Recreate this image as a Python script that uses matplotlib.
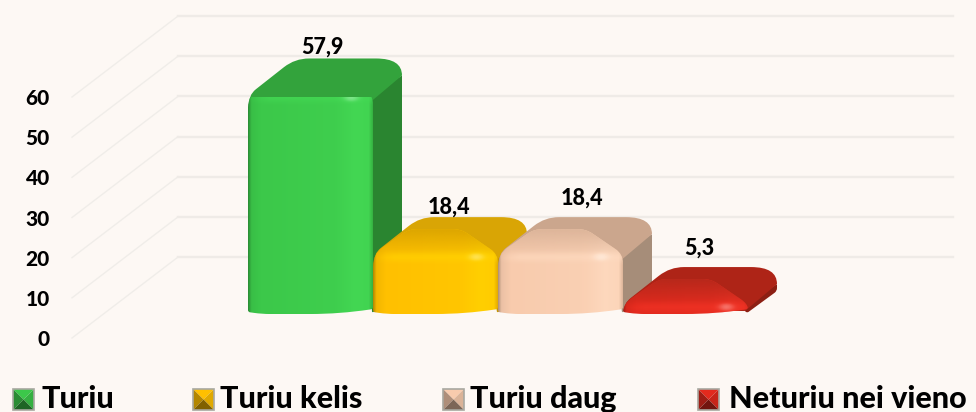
import numpy as np
import matplotlib
matplotlib.use("Agg")
import matplotlib.pyplot as plt
from matplotlib.colors import to_rgb
from matplotlib.patches import PathPatch, Polygon, Rectangle
from matplotlib.path import Path

categories = ["Turiu", "Turiu kelis", "Turiu daug", "Neturiu nei vieno"]
values = [57.9, 18.4, 18.4, 5.3]
value_labels = ["57,9", "18,4", "18,4", "5,3"]
y_ticks = [0, 10, 20, 30, 40, 50, 60]

# front, light, top, slope, side
bar_colors = [
    ("#3CC84A", "#45DC56", "#33A33C", "#37B545", "#2A8530"),
    ("#FFC000", "#FFD400", "#D9A505", "#DDA600", "#C49503"),
    ("#F8CBAD", "#FFDCC2", "#CBA68D", "#DDB59A", "#A68D79"),
    ("#E22A1E", "#F23426", "#AE2417", "#B8281B", "#8C1F13"),
]
label_nudge = [(74, 11), (76, 10), (84, 19), (76, 19)]
legend_swatch_x = [13, 193, 443, 698]
legend_text_x = [41, 220, 470, 729]

W, H = 976, 412
BG = "#FDF8F4"
PX_PER_CAT = 125
PX_PER_VAL = 4.02
AX_LEFT, AX_ZERO, AX_TOP = 72, 338, 97
FIRST_BAR_LEFT = 248
BAR_BASE_UP = 25     # front of the bars sits this far above the axis zero
DEPTH_X, DEPTH_Y = 106, 81
MIN_TOP = 46         # the bevel keeps short bars from getting thinner than this


def rounded(points, radii):
    """Closed path through points with corners cut by quadratic curves"""
    pts = np.array(points, dtype=float)
    n = len(pts)
    verts, codes = [], []
    for k in range(n):
        p, prev, nxt = pts[k], pts[k - 1], pts[(k + 1) % n]
        r = radii[k]
        a = p + (prev - p) * min(r / np.linalg.norm(prev - p), 1.0)
        b = p + (nxt - p) * min(r / np.linalg.norm(nxt - p), 1.0)
        verts.append(a)
        codes.append(Path.MOVETO if k == 0 else Path.LINETO)
        verts += [p, b]
        codes += [Path.CURVE3, Path.CURVE3]
    verts.append(verts[0])
    codes.append(Path.CLOSEPOLY)
    return Path(verts, codes)


def mix(c1, c2, t):
    return np.array(to_rgb(c1)) * (1 - t) + np.array(to_rgb(c2)) * t


fig = plt.figure(figsize=(W / 100, H / 100), dpi=100, facecolor=BG)
ax = fig.add_axes([AX_LEFT / W, (H - AX_ZERO) / H, (W - AX_LEFT) / W, (AX_ZERO - AX_TOP) / H])
ax.set_facecolor("none")
ax.set_xlim(0, (W - AX_LEFT) / PX_PER_CAT)
ax.set_ylim(0, 60)
for s in ax.spines.values():
    s.set_visible(False)
ax.set_xticks([])
ax.set_yticks(y_ticks)
ax.tick_params(axis="y", length=0, pad=16)
for t in ax.get_yticklabels():
    t.set_fontfamily("Lato")
    t.set_fontweight(900)
    t.set_fontsize(15)
    t.set_color("black")

dx_depth = DEPTH_X / PX_PER_CAT
dy_depth = DEPTH_Y / PX_PER_VAL
x_end = (953 - AX_LEFT) / PX_PER_CAT
for v in y_ticks:
    ax.plot([0, dx_depth], [v, v + dy_depth], color="#F0EDE9", lw=1.0, clip_on=False, zorder=1)
    ax.plot([dx_depth, x_end], [v + dy_depth, v + dy_depth], color="#EFEBE7", lw=1.7, clip_on=False, zorder=1)


def to_data(i, x, up):
    # x: px from the bar's left edge, up: px above the bar's front bottom
    left = (FIRST_BAR_LEFT - AX_LEFT) / PX_PER_CAT + i
    return left + x / PX_PER_CAT, (BAR_BASE_UP + up) / PX_PER_VAL


def rounded_px(i, pts, r):
    # radii are given in px; the rounding itself happens in px space
    path = rounded(pts, r)
    verts = np.array([to_data(i, x, y) for x, y in path.vertices])
    return Path(verts, path.codes)


def gradient(path, img, i, x0, x1, y0, y1, z):
    ex0, ey0 = to_data(i, x0, y0)
    ex1, ey1 = to_data(i, x1, y1)
    im = ax.imshow(img, extent=(ex0, ex1, ey0, ey1), origin="lower", aspect="auto",
                   interpolation="bilinear", zorder=z)
    patch = PathPatch(path, transform=ax.transData, fc="none", ec="none")
    ax.add_patch(patch)
    im.set_clip_path(patch)


for i, v in enumerate(values):
    front, light, top, slope, side = bar_colors[i]
    z = 5 + i * 5
    T = max(22 + v * PX_PER_VAL, MIN_TOP)

    side_pts = [(118, T - 40), (154, T - 17), (154, 22), (124, 0)]
    ax.add_patch(PathPatch(rounded_px(i, side_pts, [1, 1, 3, 2]), fc=side, ec="none", zorder=z, clip_on=False))

    plate_low = max(T - 48, 3)
    top_pts = [(0, T - 37), (47, T), (154, T), (154, T - 17), (122, T - 44), (2, plate_low)]
    ax.add_patch(PathPatch(rounded_px(i, top_pts, [10, 14, 26, 0, 1, 1]), fc=top, ec="none", zorder=z + 1, clip_on=False))

    # whole front silhouette: the body, its sloping top and the lit band share one clip
    sil = [(0, 1), (14, -1), (92, -1), (125, 4), (125, T - 37), (88, T - 12), (36, T - 12), (0, T - 37)]
    sil_path = rounded_px(i, sil, [2, 8, 30, 2, 9, 8, 8, 12])

    stops = np.array([0, 0.025, 0.1, 0.7, 0.86, 0.97, 1])
    cols = [mix(front, "#000000", 0.28), mix(front, "#000000", 0.05), mix(front, light, 0),
            mix(front, light, 0.3), mix(front, light, 0.75), mix(front, light, 0.6), mix(front, "#000000", 0.1)]
    xs = np.linspace(0, 1, 130)
    row = np.stack([np.interp(xs, stops, [c[k] for c in cols]) for k in range(3)], axis=-1)
    gradient(sil_path, row[None, :, :].repeat(2, axis=0), i, 0, 125, -1, T, z + 2)

    # sloping top of the front, fades in above the band
    slope_img = np.zeros((40, 2, 4))
    slope_img[..., :3] = to_rgb(slope)
    slope_img[..., 3] = (np.linspace(0, 1, 40) ** 0.9)[:, None]
    gradient(sil_path, slope_img, i, 0, 125, T - 40, T - 12, z + 3)

    # lit band and corner highlight along the front edge
    band = np.zeros((30, 130, 4))
    band[..., :3] = mix(front, light, 0.9)
    yy, xx = np.mgrid[0:1:30j, 0:1:130j]
    band[..., 3] = 0.6 * np.exp(-((yy - 0.5) / 0.25) ** 2) * np.clip(xx * 6, 0, 1)
    glow = np.exp(-((xx - 0.83) / 0.06) ** 2 - ((yy - 0.5) / 0.2) ** 2)
    band[..., :3] = band[..., :3] * (1 - glow[..., None]) + mix(light, "#FFFFFF", 0.3) * glow[..., None]
    band[..., 3] = np.clip(band[..., 3] + glow, 0, 1)
    gradient(sil_path, band, i, 0, 125, T - 50, T - 30, z + 4)

    lx, ly = to_data(i, label_nudge[i][0], T + label_nudge[i][1])
    ax.text(lx, ly, value_labels[i], ha="center", va="center", fontfamily="Lato", fontweight=900,
            fontsize=15.5, color="black", zorder=40, clip_on=False)


def fig_xy(x, y):
    return x / W, (H - y) / H


for name, colors, sx, tx in zip(categories, bar_colors, legend_swatch_x, legend_text_x):
    front = colors[0]
    x0, x1, y0, y1 = sx, sx + 21, 389, 410
    cx, cy = (x0 + x1) / 2, (y0 + y1) / 2
    tris = [
        ([(x0, y0), (x1, y0), (cx, cy)], mix(front, "#000000", 0.0)),
        ([(x1, y0), (x1, y1), (cx, cy)], mix(front, "#000000", 0.12)),
        ([(x0, y0), (x0, y1), (cx, cy)], mix(front, "#000000", 0.3)),
        ([(x0, y1), (x1, y1), (cx, cy)], mix(front, "#000000", 0.5)),
    ]
    for pts, c in tris:
        fig.add_artist(Polygon([fig_xy(*p) for p in pts], closed=True, fc=c, ec="none",
                               transform=fig.transFigure))
    fig.add_artist(Rectangle(fig_xy(x0, y1), (x1 - x0) / W, (y1 - y0) / H, fc="none", ec="#A8A8A0",
                             lw=1.2, transform=fig.transFigure))
    fig.text(*fig_xy(tx, 408), name, ha="left", va="baseline", fontfamily="Lato", fontweight=900,
             fontsize=22, color="black")

fig.savefig("out.png", dpi=100, facecolor=BG)
